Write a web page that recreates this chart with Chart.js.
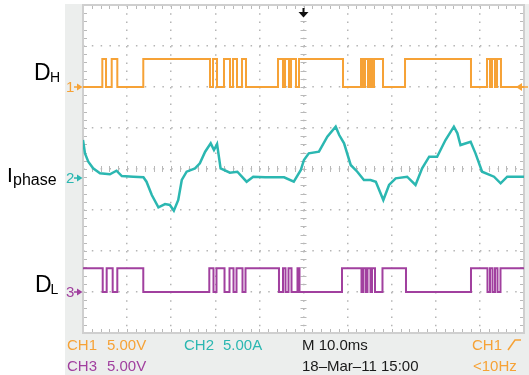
<!DOCTYPE html>
<html>
<head>
<meta charset="utf-8">
<script src="https://cdn.jsdelivr.net/npm/chart.js@4.4.0/dist/chart.umd.min.js"></script>
<style>
html, body { margin: 0; padding: 0; background: #fff; }
</style>
</head>
<body>
<canvas id="scope" width="529" height="375"></canvas>
<script>
// time axis: 10 ms/div, 10 divisions -> 0..100 ms
// D_H (CH1) switching edges in ms, starts low
var dhEdges = [4.38, 5.22, 6.51, 7.78, 13.67, 28.80, 29.48, 30.39, 31.97, 33.33, 34.01, 34.92,
  36.05, 36.96, 44.22, 45.35, 45.80, 46.71, 47.17, 48.30, 48.98, 58.96, 63.04, 63.49, 63.95,
  64.63, 65.08, 65.53, 65.99, 68.03, 73.02, 87.98, 91.61, 92.29, 92.74, 93.42, 93.88, 94.78];
var dhHigh = 3.4; // volts

// D_L (CH3) switching edges in ms, starts high
var dlEdges = [4.47, 5.37, 6.73, 7.78, 13.67, 28.64, 29.59, 30.27, 32.09, 33.22, 34.13, 34.81,
  36.17, 36.85, 44.44, 45.35, 45.92, 46.60, 47.28, 48.64, 49.09, 58.73, 63.15, 63.49, 64.06,
  64.51, 65.19, 65.53, 66.21, 67.91, 73.24, 87.98, 91.72, 92.29, 92.86, 93.42, 93.99, 94.67];
var dlHigh = 2.9; // volts

// I_phase (CH2) in amps
var iphTime = [0, 0.45, 1.2, 2.3, 3.85, 6.1, 7.6, 8.8, 11.4, 13.7, 14.4, 15.6, 17.1, 18.6, 19.7,
  20.6, 21.6, 22.4, 23.5, 25.4, 26.5, 27.7, 28.96, 29.7, 30.4, 31.2, 33.3, 35.0, 37.1, 38.6,
  41.3, 45.6, 47.8, 49.4, 50.1, 51.2, 53.5, 55.4, 57.3, 58.1, 59.2, 60.7, 62.2, 63.7, 65.2,
  66.4, 68.1, 69.4, 70.9, 73.5, 75.4, 76.9, 78.5, 80.3, 82.2, 84.1, 84.9, 85.6, 87.9, 89.0,
  90.5, 93.2, 94.7, 96.2, 100];
var iphAmps = [4.63, 3.01, 1.99, 1.18, 0.57, 0.45, 0.89, 0.24, 0.16, 0.09, -0.45, -2.07, -3.57, -3.17, -3.29,
  -3.99, -2.68, -0.24, 0.77, 1.18, 1.79, 3.21, 4.23, 3.41, 4.15, 1.18, 0.65, 0.77, -0.45, 0.16,
  0.09, 0.09, -0.45, 0.98, 2.2, 3.01, 3.21, 5.04, 6.26, 5.24, 4.23, 1.59, 0.77, -0.24, -0.24,
  -0.45, -2.68, -0.85, -0.04, 0.16, -0.85, 1.18, 2.6, 2.6, 4.63, 6.26, 5.45, 4.02, 4.43, 3.01,
  0.77, 0.16, -0.65, 0.16, 0.16];

var row1Texts = ['CH1', '5.00V', 'CH2', '5.00A', 'M 10.0ms', 'CH1'];
var row2Texts = ['CH3', '5.00V', '18\u2013Mar\u201311 15:00', '<10Hz'];

var orange = '#f6a236', teal = '#2bb7b1', purple = '#a1409f';
var voltsPerDiv = 5, ampsPerDiv = 5;
var pos1 = 2, pos2 = -0.22, pos3 = -3; // channel ground positions in divisions

function steps(edges, high, startHigh) {
  var lvl = startHigh ? high : 0;
  var pts = [{x: 0, y: lvl}];
  edges.forEach(function (t) {
    pts.push({x: t, y: lvl});
    lvl = lvl ? 0 : high;
    pts.push({x: t, y: lvl});
  });
  pts.push({x: 100, y: lvl});
  return pts;
}
function toDiv(pts, perDiv, pos) {
  return pts.map(function (p) { return {x: p.x, y: p.y / perDiv + pos}; });
}

var ch1 = toDiv(steps(dhEdges, dhHigh, false), voltsPerDiv, pos1);
var ch3 = toDiv(steps(dlEdges, dlHigh, true), voltsPerDiv, pos3);
var ch2 = toDiv(iphTime.map(function (t, i) { return {x: t, y: iphAmps[i]}; }), ampsPerDiv, pos2);

var scopeDecor = {
  id: 'scopeDecor',
  beforeDraw: function (chart) {
    var c = chart.ctx, a = chart.chartArea;
    c.save();
    c.fillStyle = '#ffffff';
    c.fillRect(0, 0, chart.width, chart.height);
    c.fillStyle = '#eceeed';
    c.fillRect(65, 4, chart.width - 65, chart.height - 4);
    c.fillStyle = '#ffffff';
    c.fillRect(a.left, a.top, a.right - a.left, a.bottom - a.top);
    c.restore();
  },
  beforeDatasetsDraw: function (chart) {
    var c = chart.ctx, a = chart.chartArea;
    var xs = chart.scales.x, ys = chart.scales.y;
    var cx = xs.getPixelForValue(50), cy = ys.getPixelForValue(0);
    c.save();
    c.strokeStyle = '#b9b9b9';
    c.lineWidth = 1;
    c.beginPath();
    for (var t = 0; t <= 100; t += 2) {
      var px = Math.round(xs.getPixelForValue(t)) + 0.5;
      c.moveTo(px, a.top); c.lineTo(px, a.top + 4);
      c.moveTo(px, a.bottom); c.lineTo(px, a.bottom - 4);
      c.moveTo(px, cy - 3); c.lineTo(px, cy + 3);
    }
    for (var v = -4; v <= 4.001; v += 0.2) {
      var py = Math.round(ys.getPixelForValue(v)) + 0.5;
      c.moveTo(a.left, py); c.lineTo(a.left + 4, py);
      c.moveTo(a.right, py); c.lineTo(a.right - 4, py);
      c.moveTo(cx - 3, py); c.lineTo(cx + 3, py);
    }
    c.stroke();
    c.strokeStyle = '#cfcfcf';
    c.lineWidth = 2;
    c.strokeRect(a.left, a.top, a.right - a.left, a.bottom - a.top);
    c.restore();
  },
  afterDraw: function (chart) {
    var c = chart.ctx, a = chart.chartArea;
    var xs = chart.scales.x, ys = chart.scales.y;
    c.save();
    // channel ground markers
    [[pos1, '1', orange], [pos2, '2', teal], [pos3, '3', purple]].forEach(function (m) {
      var y = ys.getPixelForValue(m[0]);
      c.fillStyle = m[2];
      c.strokeStyle = m[2];
      c.font = '15px "Liberation Sans", Arial, sans-serif';
      c.textBaseline = 'middle';
      c.fillText(m[1], 66, y + 1);
      c.lineWidth = 1.5;
      c.beginPath(); c.moveTo(74, y); c.lineTo(78, y); c.stroke();
      c.beginPath(); c.moveTo(82.5, y); c.lineTo(77, y - 3.5); c.lineTo(77, y + 3.5); c.closePath(); c.fill();
    });
    // trigger level arrow (right)
    var ty = ys.getPixelForValue(pos1);
    c.fillStyle = orange; c.strokeStyle = orange;
    c.beginPath(); c.moveTo(516, ty); c.lineTo(522, ty - 4); c.lineTo(522, ty + 4); c.closePath(); c.fill();
    c.lineWidth = 1.5;
    c.beginPath(); c.moveTo(521, ty); c.lineTo(528, ty); c.stroke();
    // trigger position arrow (top)
    var tx = xs.getPixelForValue(50);
    c.fillStyle = '#111'; c.strokeStyle = '#111';
    c.lineWidth = 2;
    c.beginPath(); c.moveTo(tx, a.top + 3); c.lineTo(tx, a.top + 8); c.stroke();
    c.beginPath(); c.moveTo(tx - 5, a.top + 7); c.lineTo(tx + 5, a.top + 7); c.lineTo(tx, a.top + 12.5); c.closePath(); c.fill();

    // signal names
    c.fillStyle = '#000';
    c.textBaseline = 'alphabetic';
    c.font = '23px "Liberation Sans", Arial, sans-serif';
    c.fillText('D', 34, 80);
    c.fillText('D', 35, 292);
    c.font = '21px "Liberation Sans", Arial, sans-serif';
    c.fillText('I', 7, 182);
    c.font = '14px "Liberation Sans", Arial, sans-serif';
    c.fillText('H', 50, 82);
    c.fillText('L', 50.5, 294);
    c.font = '16px "Liberation Sans", Arial, sans-serif';
    c.fillText('phase', 13, 185);

    // status lines
    c.font = '15px "Liberation Sans", Arial, sans-serif';
    c.fillStyle = orange;
    c.fillText(row1Texts[0], 67, 350);
    c.fillText(row1Texts[1], 107, 350);
    c.fillStyle = teal;
    c.fillText(row1Texts[2], 184, 350);
    c.fillText(row1Texts[3], 223, 350);
    c.fillStyle = '#1a1a1a';
    c.fillText(row1Texts[4], 302, 350);
    c.fillStyle = orange;
    c.fillText(row1Texts[5], 472, 350);
    c.strokeStyle = orange; c.lineWidth = 1.5;
    c.beginPath(); c.moveTo(508, 350); c.lineTo(515, 340); c.lineTo(521, 340); c.stroke();
    c.fillStyle = purple;
    c.fillText(row2Texts[0], 67, 371);
    c.fillText(row2Texts[1], 107, 371);
    c.fillStyle = '#1a1a1a';
    c.fillText(row2Texts[2], 302, 371);
    c.fillStyle = orange;
    c.fillText(row2Texts[3], 473, 371);
    c.restore();
  }
};

new Chart(document.getElementById('scope').getContext('2d'), {
  type: 'line',
  data: {
    datasets: [
      { label: 'D_H', data: ch1, borderColor: orange, borderWidth: 2 },
      { label: 'I_phase', data: ch2, borderColor: teal, borderWidth: 2.5 },
      { label: 'D_L', data: ch3, borderColor: purple, borderWidth: 2 }
    ]
  },
  options: {
    responsive: false,
    animation: false,
    devicePixelRatio: 1,
    layout: { padding: { left: 83, right: 5, top: 5, bottom: 42 } },
    elements: { point: { radius: 0 }, line: { tension: 0, fill: false } },
    scales: {
      x: {
        type: 'linear', min: 0, max: 100,
        ticks: { display: false, stepSize: 10 },
        grid: { color: '#b5b5b5', lineWidth: 1.5, drawTicks: false },
        border: { display: false, dash: [1.5, 6.7] }
      },
      y: {
        type: 'linear', min: -4, max: 4,
        ticks: { display: false, stepSize: 1 },
        grid: { color: '#b5b5b5', lineWidth: 1.5, drawTicks: false },
        border: { display: false, dash: [1.5, 7.32] }
      }
    },
    plugins: {
      legend: { display: false },
      tooltip: { enabled: false },
      title: { display: false }
    }
  },
  plugins: [scopeDecor]
});
</script>
</body>
</html>
